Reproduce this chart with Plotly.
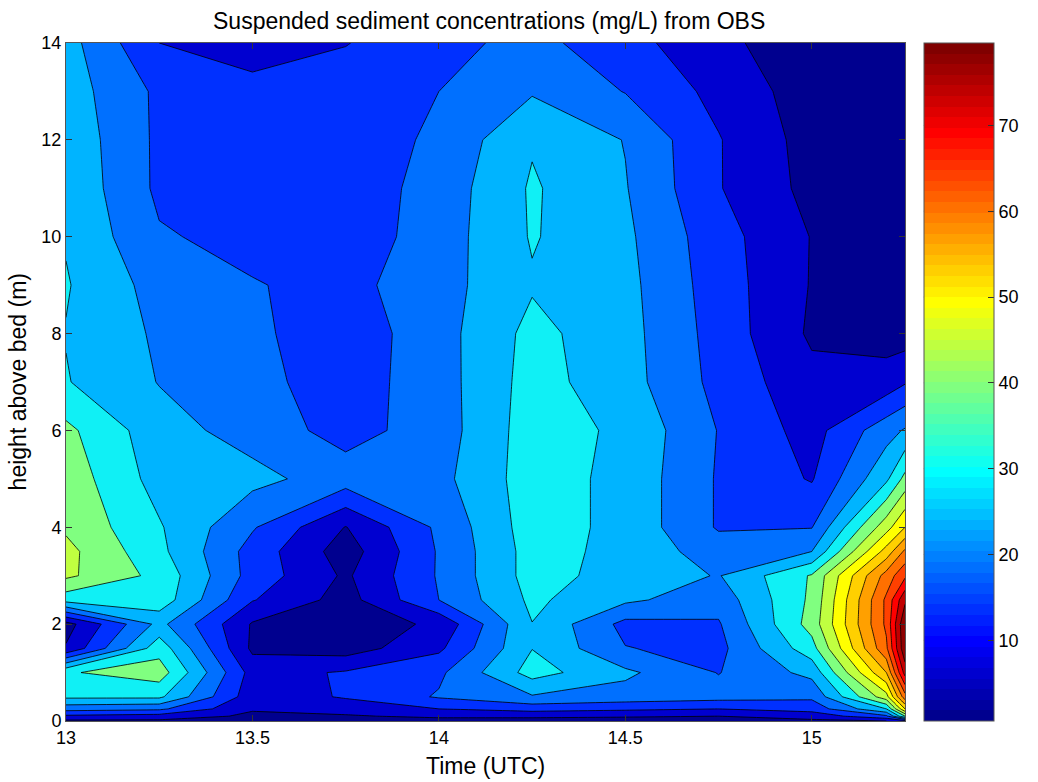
import math
import numpy as np
import plotly.graph_objects as go

# Sample times (decimal hours, UTC) and OBS heights above the bed (m)
time_utc = [13.0, 13.25, 13.5, 13.75, 14.0, 14.25, 14.5, 14.75, 15.0, 15.2, 15.25]
height_m = [0, 0.1, 0.25, 0.5, 1, 1.5, 2, 2.5, 3, 3.5, 4, 5, 6, 7, 8, 9, 10, 11, 12, 13, 14]

# Suspended sediment concentration profiles (mg/L), listed bottom to top
ssc_1300 = [4, 9, 17, 26, 29.5, 5.5, 3, 27, 36, 36.5, 34.2, 33, 31.2, 25.3, 24.8, 25.4, 24.6, 24, 23.5, 22.5, 22]
ssc_1315 = [4, 8, 16, 26, 32.6, 28, 21.5, 28, 28.5, 26.3, 25.5, 23, 22, 19.8, 19.2, 18, 15.5, 14, 14, 14, 10]
ssc_1330 = [2.5, 4, 5.5, 7, 8, 4, 4.5, 10.3, 13, 13, 15.5, 21.5, 18, 16.5, 16, 15.3, 13.5, 12.5, 12.5, 12, 7]
ssc_1345 = [2.5, 4.5, 7, 10.5, 10.5, 2.5, 2, 3, 4.2, 2.5, 4.8, 17.5, 13, 12.5, 12, 13.5, 12, 12, 12, 12.5, 9.8]
ssc_1400 = [3, 6, 10, 15.5, 14, 9, 6, 15, 15.5, 15.5, 16, 18.5, 17.5, 17.8, 18, 18, 17.5, 17, 16, 15, 13.5]
ssc_1415 = [3, 6, 12, 19.5, 27, 24.9, 24.9, 26, 27, 27, 27.5, 27.5, 27.5, 27, 26.5, 24.5, 25.4, 25.6, 24.5, 19.5, 16.5]
ssc_1430 = [3, 5.5, 11, 18, 21, 15.2, 13.5, 21, 23, 23.5, 23.5, 23.5, 24, 22, 21.8, 21.5, 21, 20.3, 19.8, 14.8, 12]
ssc_1445 = [2.5, 5, 10, 17, 14.8, 13.5, 14.5, 17, 19.7, 17.5, 14.5, 14.5, 14.8, 13.5, 13, 12.5, 12, 10.3, 10.3, 8.5, 6]
ssc_1500 = [4, 7, 12, 16, 21.5, 28, 32, 31, 30.5, 20, 14.8, 9.6, 8, 6.5, 4.2, 4.7, 4.8, 3.5, 3, 2.5, 2.5]
ssc_1512 = [5, 14, 25, 38, 50, 59, 61, 61, 57, 47, 38, 24, 18, 7, 3, 3.5, 3.2, 2.8, 2.5, 2.2, 2]
ssc_1515 = [8, 30, 45, 58, 72, 79, 79.6, 74, 64, 56, 45, 31.5, 20.5, 9.5, 2.5, 3, 2.8, 2.5, 2.2, 2, 2]

profiles = [ssc_1300, ssc_1315, ssc_1330, ssc_1345, ssc_1400, ssc_1415,
            ssc_1430, ssc_1445, ssc_1500, ssc_1512, ssc_1515]

# Contour levels and colour axis
level_start, level_end, level_step = 5, 75, 5
c_min, c_max = 0.6, 79.6
cbar_ticks = [10, 20, 30, 40, 50, 60, 70]

# Fill colour of each band: below 5, then 5-10, 10-15, ... , above 75
band_colors = ["#00008F", "#0000D0", "#0030FF", "#0070FF", "#00B4FF", "#10F0F5",
               "#80FF80", "#C0FF40", "#FFFF00", "#FFD000", "#FFA000", "#FF7000",
               "#FF4000", "#FF0000", "#C00000", "#8F0000"]

z = np.array(profiles, dtype=float).T  # rows: height, columns: time


def jet(m=64):
    """MATLAB-style jet colormap as a list of (r, g, b) floats."""
    n = math.ceil(m / 4)
    u = [i / n for i in range(1, n + 1)] + [1.0] * (n - 1) + [i / n for i in range(n, 0, -1)]
    g0 = math.ceil(n / 2) - (1 if m % 4 == 1 else 0)
    cmap = [[0.0, 0.0, 0.0] for _ in range(m)]
    for k, val in enumerate(u, start=1):
        g = g0 + k
        r = g + n
        b = g - n
        if 1 <= r <= m:
            cmap[r - 1][0] = val
        if 1 <= g <= m:
            cmap[g - 1][1] = val
        if 1 <= b <= m:
            cmap[b - 1][2] = val
    return cmap


def to_rgb(c):
    return "rgb(%d,%d,%d)" % tuple(int(round(255 * v)) for v in c)


# Stepped 64-colour jet scale for the colour bar
jet_steps = []
for i, c in enumerate(jet(64)):
    jet_steps.append([i / 64, to_rgb(c)])
    jet_steps.append([(i + 1) / 64, to_rgb(c)])

# Contour fill scale: one stop per band so every band gets a flat colour
n_bands = len(band_colors)
band_scale = [[k / (n_bands - 1), col] for k, col in enumerate(band_colors)]

fig = go.Figure()

fig.add_trace(go.Contour(
    x=time_utc,
    y=height_m,
    z=z,
    autocontour=False,
    contours=dict(start=level_start, end=level_end, size=level_step, coloring="fill"),
    colorscale=band_scale,
    line=dict(color="black", width=0.8, smoothing=0),
    showscale=False,
    hoverinfo="skip",
))

# Continuous jet colour bar
bar_left = 1.0225
fig.add_trace(go.Scatter(
    x=[13.0, 13.0],
    y=[-5, -5],
    mode="markers",
    hoverinfo="skip",
    showlegend=False,
    marker=dict(
        color=[c_min, c_max],
        cmin=c_min,
        cmax=c_max,
        colorscale=jet_steps,
        showscale=True,
        size=1,
        colorbar=dict(
            x=bar_left,
            xanchor="left",
            y=0.5,
            yanchor="middle",
            len=1.0,
            lenmode="fraction",
            thickness=70,
            thicknessmode="pixels",
            outlinewidth=1,
            outlinecolor="#555555",
            tickvals=cbar_ticks,
            ticks="inside",
            ticklen=6,
            tickcolor="#333333",
            tickfont=dict(family="Liberation Sans, Arial, sans-serif", size=18, color="black"),
            xpad=0,
            ypad=0,
        ),
    ),
))

# Mirror colour-bar ticks on its left edge
shapes = []
for tv in cbar_ticks:
    yp = (tv - c_min) / (c_max - c_min)
    shapes.append(dict(type="line", xref="paper", yref="paper",
                       x0=bar_left, x1=bar_left + 6 / 846, y0=yp, y1=yp,
                       line=dict(color="#333333", width=1)))

axis_font = dict(family="Liberation Sans, Arial, sans-serif", size=18, color="black")
label_font = dict(family="Liberation Sans, Arial, sans-serif", size=23, color="black")

fig.update_layout(
    width=1038,
    height=782,
    margin=dict(l=66, r=126, t=43, b=61),
    paper_bgcolor="white",
    plot_bgcolor="white",
    showlegend=False,
    shapes=shapes,
    xaxis=dict(
        range=[13.0, 15.25],
        tickvals=[13, 13.5, 14, 14.5, 15],
        ticktext=["13", "13.5", "14", "14.5", "15"],
        ticks="inside",
        ticklen=6,
        tickcolor="#333333",
        showline=True,
        linecolor="#555555",
        linewidth=1,
        mirror="ticks",
        showgrid=False,
        zeroline=False,
        tickfont=axis_font,
        ticklabelstandoff=0,
    ),
    yaxis=dict(
        range=[0, 14],
        tickvals=[0, 2, 4, 6, 8, 10, 12, 14],
        ticks="inside",
        ticklen=6,
        tickcolor="#333333",
        showline=True,
        linecolor="#555555",
        linewidth=1,
        mirror="ticks",
        showgrid=False,
        zeroline=False,
        tickfont=axis_font,
        ticklabelstandoff=0,
    ),
    annotations=[
        dict(text="Suspended sediment concentrations (mg/L) from OBS",
             xref="paper", yref="paper", x=0.5 + 4 / 846, y=1 + 22 / 678,
             xanchor="center", yanchor="middle", showarrow=False, font=label_font),
        dict(text="Time (UTC)",
             xref="paper", yref="paper", x=0.5, y=-45 / 678,
             xanchor="center", yanchor="middle", showarrow=False, font=label_font),
        dict(text="height above bed (m)",
             xref="paper", yref="paper", x=-48 / 846, y=0.5,
             xanchor="center", yanchor="middle", textangle=-90, showarrow=False,
             font=label_font),
    ],
)

fig.write_html("out.html")
